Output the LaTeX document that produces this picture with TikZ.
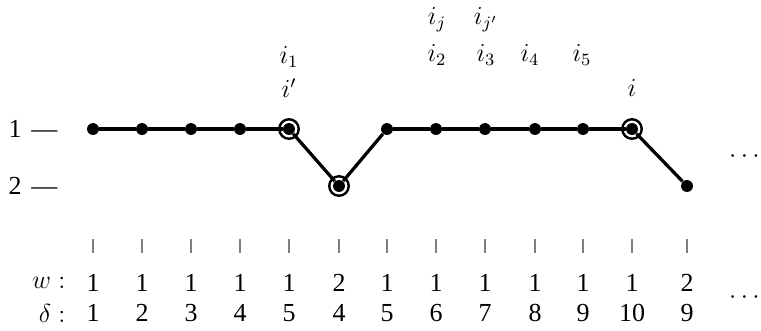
\documentclass[tikz,border=0pt]{standalone}
\usepackage{fontspec}
\setmainfont{Liberation Serif}
\tikzset{
  vtx/.style={circle,fill=black,inner sep=0pt,minimum size=5.5pt},
  ring/.style={circle,draw,line width=1.1pt,inner sep=0pt,minimum size=9pt},
  lbl/.style={inner sep=1pt},
}
\begin{document}
\begin{tikzpicture}[x=0.4615pt,y=-0.4615pt,font=\fontsize{12}{14}\selectfont]
\useasboundingbox (0,0) rectangle (761,330);
% levels on the left
\node[lbl,anchor=west] (lev1) at (6,129) {1\hspace{4.5pt}---};
\node[lbl,anchor=west] (lev2) at (6,186) {2\hspace{4.5pt}---};
% vertices, ticks and the two rows
\foreach \x/\l/\w/\d [count=\n] in {93/1/1/1,142/1/1/2,191/1/1/3,240/1/1/4,289/1/1/5,339/2/2/4,387/1/1/5,436/1/1/6,485/1/1/7,535/1/1/8,583/1/1/9,632/1/1/10,687/2/2/9}{
  \node[vtx] (p\n) at (\x,{72+57*\l}) {};
  \draw[gray,line width=0.5pt] (\x,239) -- (\x,253);
  \node[lbl] (w\n) at (\x,283) {\w};
  \node[lbl] (d\n) at (\x,313) {\d};
}
\foreach \n [count=\m from 2] in {1,...,12}
  \draw[line width=1.5pt] (p\n) -- (p\m);
\node[ring] (r5) at (p5) {};
\node[ring] (r6) at (p6) {};
\node[ring] (r12) at (p12) {};
\node[lbl,anchor=east] (wl) at (68,283) {$w:$};
\node[lbl,anchor=east] (dl) at (68,313) {$\delta:$};
% labels above the path
\node[lbl] (i1) at (289,57) {$i_1$};
\node[lbl] (ip) at (289,88) {$i'$};
\node[lbl] (ij) at (437,20) {$i_j$};
\node[lbl] (i2) at (437,55) {$i_2$};
\node[lbl] (ijp) at (486,20) {$i_{j'}$};
\node[lbl] (i3) at (486,55) {$i_3$};
\node[lbl] (i4) at (530,55) {$i_4$};
\node[lbl] (i5) at (582,55) {$i_5$};
\node[lbl] (ii) at (632,88) {$i$};
% continuation
\node[inner sep=0pt,anchor=east] (more1) at (760,157) {$\cdots$};
\node[inner sep=0pt,anchor=east] (more2) at (760,298) {$\cdots$};
\end{tikzpicture}
\end{document}
